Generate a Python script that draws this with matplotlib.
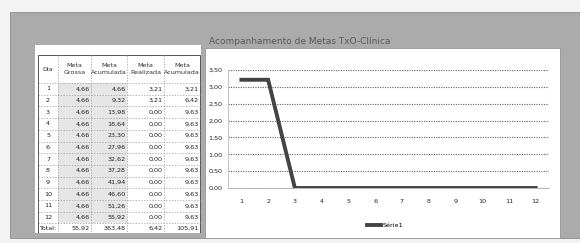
import matplotlib.pyplot as plt
from matplotlib.patches import Rectangle
from matplotlib.ticker import FuncFormatter

# dados da planilha
dias = list(range(1, 13))
meta_grossa = [4.66] * 12
meta_acum = [4.66, 9.32, 13.98, 18.64, 23.30, 27.96, 32.62, 37.28, 41.94, 46.60, 51.26, 55.92]
meta_realizada = [3.21, 3.21, 0, 0, 0, 0, 0, 0, 0, 0, 0, 0]
realizada_acum = [3.21, 6.42, 9.63, 9.63, 9.63, 9.63, 9.63, 9.63, 9.63, 9.63, 9.63, 9.63]
totais = ['55,92', '363,48', '6,42', '105,91']
cabecalho = ['Dia', 'Meta\nGrossa', 'Meta\nAcumulada', 'Meta\nRealizada', 'Meta\nAcumulada']

W, H = 580, 243
fig = plt.figure(figsize=(5.8, 2.43), dpi=100)
fig.patch.set_facecolor('#f3f3f3')

def fx(x):
    return x / W

def fy(y):
    return 1 - y / H

# painel cinza
fig.patches.append(Rectangle((fx(10), fy(238)), fx(570), 226 / H, transform=fig.transFigure,
                             facecolor='#ababab', edgecolor='#8a8a8a', lw=0.6, zorder=-3))
# fundo branco do grafico
fig.patches.append(Rectangle((fx(205), fy(238)), fx(355), 190 / H, transform=fig.transFigure,
                             facecolor='white', edgecolor='#888888', lw=0.5, zorder=-2))

fig.text(fx(300), fy(42), 'Acompanhamento de Metas TxO-Clínica', ha='center', va='center',
         fontsize=6.5, color='#5a5a5a')

# ---- tabela ----
tab = fig.add_axes([fx(35), fy(233), fx(166), 188 / H])
tab.set_xlim(35, 201)
tab.set_ylim(233, 45)
tab.axis('off')
tab.add_patch(Rectangle((35, 45), 166, 188, facecolor='white', edgecolor='none'))

cols = [38, 58, 91, 127, 164, 200]
top_h, h_head = 55, 28
row_h = 11.7
y0 = top_h + h_head
fs = 4.6

for i in range(12):
    y = y0 + i * row_h
    for c in (1, 2):
        tab.add_patch(Rectangle((cols[c], y), cols[c + 1] - cols[c], row_h,
                                facecolor='#e6e6e6', edgecolor='none'))

for j, txt in enumerate(cabecalho):
    tab.text((cols[j] + cols[j + 1]) / 2, top_h + h_head / 2, txt, ha='center', va='center',
             fontsize=fs, color='#333333', linespacing=1.6)

def br(v):
    return f'{v:.2f}'.replace('.', ',')

for i in range(12):
    yc = y0 + (i + 0.5) * row_h
    tab.text((cols[0] + cols[1]) / 2, yc, str(dias[i]), ha='center', va='center', fontsize=fs, color='#222222')
    for c, serie in enumerate([meta_grossa, meta_acum, meta_realizada, realizada_acum], start=1):
        tab.text(cols[c + 1] - 1.5, yc, br(serie[i]), ha='right', va='center', fontsize=fs, color='#222222')

ytot = y0 + 12 * row_h
tot_h = 233 - ytot
tab.text(cols[0] + 1, ytot + tot_h / 2, 'Total:', ha='left', va='center', fontsize=fs, color='#222222')
for c, t in enumerate(totais, start=1):
    tab.text(cols[c + 1] - 1.5, ytot + tot_h / 2, t, ha='right', va='center', fontsize=fs, color='#222222')

# linhas da tabela
for i in range(13):
    tab.plot([cols[0], cols[-1]], [y0 + i * row_h] * 2, color='#9a9a9a', lw=0.5, ls=(0, (2, 2)))
for x in cols[1:-1]:
    tab.plot([x, x], [top_h, 233], color='#9a9a9a', lw=0.5, ls=(0, (2, 2)))
tab.add_patch(Rectangle((cols[0], top_h), cols[-1] - cols[0], 233 - top_h, fill=False,
                        edgecolor='#555555', lw=0.7))

# ---- grafico ----
ax = fig.add_axes([fx(228), fy(188), fx(321), 118 / H])
ax.set_facecolor('white')
ax.plot(dias, meta_realizada, color='#444444', lw=2.8, label='Série1', solid_joinstyle='miter')
ax.set_xlim(0.5, 12.5)
ax.set_ylim(0, 3.5)
ax.set_yticks([i * 0.5 for i in range(8)])
ax.yaxis.set_major_formatter(FuncFormatter(lambda v, p: br(v)))
ax.set_xticks(dias)
ax.grid(axis='y', color='#606060', lw=0.8, ls=(0, (1, 1.2)))
for s in ['top', 'right']:
    ax.spines[s].set_visible(False)
ax.spines['left'].set_color('#bbbbbb')
ax.spines['left'].set_linewidth(0.6)
ax.spines['bottom'].set_color('#aaaaaa')
ax.spines['bottom'].set_linewidth(0.6)
ax.tick_params(axis='both', labelsize=4.6, colors='#222222', length=0, pad=4)
ax.tick_params(axis='x', pad=8)
ax.set_axisbelow(True)
ax.legend(loc='center', bbox_to_anchor=(fx(385), fy(225)), bbox_transform=fig.transFigure,
          frameon=False, fontsize=4.6, handlelength=2.2, handletextpad=0.3)

fig.savefig('out.png', dpi=100, facecolor=fig.get_facecolor())
